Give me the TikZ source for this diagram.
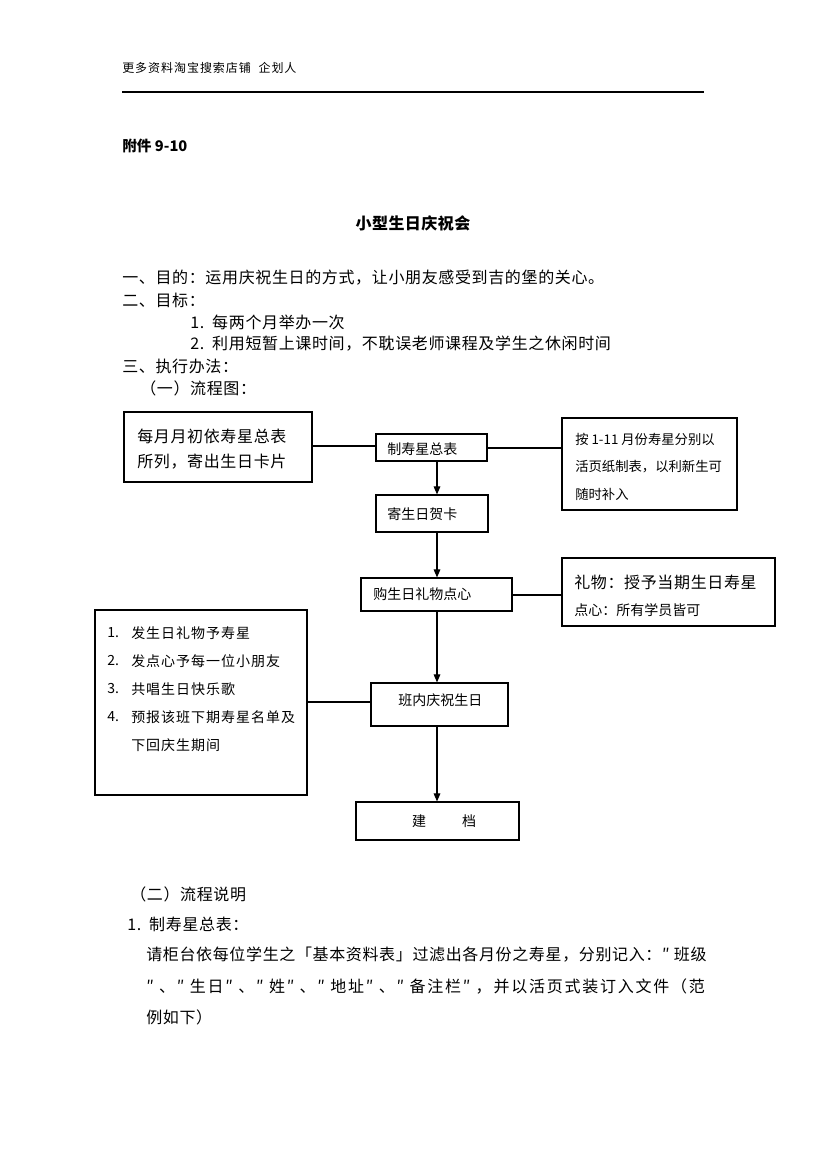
\documentclass[tikz,border=0pt]{standalone}
\usepackage{fontspec}
\setmainfont{Noto Sans CJK SC}
\usetikzlibrary{arrows.meta}
\tikzset{
  box/.style={draw, line width=0.9pt, inner sep=0pt},
  txt/.style={anchor=west, inner sep=0pt},
  conn/.style={line width=0.8pt},
  arr/.style={line width=0.8pt, -{Triangle[length=6pt,width=5pt]}},
  fbody/.style={font=\fontsize{12pt}{14pt}\selectfont\addfontfeature{LetterSpace=4}},
  fsmall/.style={font=\fontsize{10.5pt}{12pt}\selectfont},
  flist/.style={font=\fontsize{10.5pt}{12pt}\selectfont\addfontfeature{LetterSpace=7}},
}
\begin{document}
\begin{tikzpicture}[x=0.75pt,y=-0.75pt]
\useasboundingbox (0,0) rectangle (827,1169);
% header
\node[txt, font=\fontsize{9pt}{11pt}\selectfont\addfontfeature{LetterSpace=8}] (hdr) at (122,68) {更多资料淘宝搜索店铺\hspace{3pt} 企划人};
\coordinate (hl) at (122,92);
\coordinate (hr) at (704,92);
\draw[line width=0.8pt] (hl) -- (hr);
\node[txt, font=\fontsize{11pt}{13pt}\selectfont\bfseries] (att) at (122,146) {附件 9-10};
\node[font=\fontsize{12pt}{14pt}\selectfont\bfseries\addfontfeature{LetterSpace=3}, inner sep=0pt] (title) at (413,223) {小型生日庆祝会};
% body
\node[txt, fbody] (l1) at (122,278) {一、目的：运用庆祝生日的方式，让小朋友感受到吉的堡的关心。};
\node[txt, fbody] (l2) at (122,300) {二、目标：};
\node[txt, fbody] (l3) at (190,322) {1.\hspace{6pt}每两个月举办一次};
\node[txt, fbody] (l4) at (190,344) {2.\hspace{6pt}利用短暂上课时间，不耽误老师课程及学生之休闲时间};
\node[txt, fbody] (l5) at (122,366) {三、执行办法：};
\node[txt, fbody] (l6) at (140,388) {（一）流程图：};
% flowchart boxes
\node[box, minimum width=141pt, minimum height=52.5pt] (A) at (218,447) {};
\node[box, minimum width=83.25pt, minimum height=20.25pt] (B) at (431.5,447.5) {};
\node[box, minimum width=131.25pt, minimum height=69pt] (C) at (649.5,464) {};
\node[box, minimum width=84pt, minimum height=27.75pt] (D) at (432,513.5) {};
\node[box, minimum width=113.25pt, minimum height=24.75pt] (E) at (436.5,594.5) {};
\node[box, minimum width=159.75pt, minimum height=51pt] (F) at (668.5,592) {};
\node[box, minimum width=102.75pt, minimum height=32.25pt] (G) at (439.5,704.5) {};
\node[box, minimum width=159pt, minimum height=138.75pt] (H) at (201,702.5) {};
\node[box, minimum width=122.25pt, minimum height=28.5pt] (I) at (437.5,821) {};
% box texts
\node[txt, fbody] (A1) at (137,436) {每月月初依寿星总表};
\node[txt, fbody] (A2) at (137,462) {所列，寄出生日卡片};
\node[txt, fsmall] (Bt) at (387,449) {制寿星总表};
\node[txt, font=\fontsize{10pt}{12pt}\selectfont] (C1) at (575,439) {按 1-11 月份寿星分别以};
\node[txt, font=\fontsize{10pt}{12pt}\selectfont] (C2) at (575,467) {活页纸制表，以利新生可};
\node[txt, font=\fontsize{10pt}{12pt}\selectfont] (C3) at (575,494) {随时补入};
\node[txt, fsmall] (Dt) at (387,514) {寄生日贺卡};
\node[txt, fsmall] (Et) at (373,594) {购生日礼物点心};
\node[txt, fbody] (F1) at (574,582) {礼物：授予当期生日寿星};
\node[txt, fsmall] (F2) at (574,610) {点心：所有学员皆可};
\node[txt, fsmall] (Gt) at (398,700) {班内庆祝生日};
\node[fsmall, inner sep=0pt] (It) at (444,821) {建\hspace{27pt}档};
\foreach \n/\y/\t in {1/633/发生日礼物予寿星, 2/661/发点心予每一位小朋友, 3/689/共唱生日快乐歌, 4/717/预报该班下期寿星名单及}{
  \node[txt, fsmall] (Hn\n) at (107,\y) {\n.};
  \node[txt, flist] (Ht\n) at (131,\y) {\t};
}
\node[txt, flist] (Ht5) at (131,745) {下回庆生期间};
% connectors
\coordinate (ax) at (437,0);
\draw[conn] (A.east |- 0,446) -- (B.west |- 0,446);
\draw[conn] (B.east |- 0,448) -- (C.west |- 0,448);
\draw[conn] (E.east |- 0,595) -- (F.west |- 0,595);
\draw[conn] (H.east |- 0,702) -- (G.west |- 0,702);
\draw[arr] (B.south -| ax) -- (D.north -| ax);
\draw[arr] (D.south -| ax) -- (E.north -| ax);
\draw[arr] (E.south -| ax) -- (G.north -| ax);
\draw[arr] (G.south -| ax) -- (I.north -| ax);
% bottom text
\node[txt, fbody] (m1) at (130,894) {（二）流程说明};
\node[txt, fbody] (m2) at (127,924) {1.\hspace{6pt}制寿星总表：};
\node[txt, fbody] (m3) at (146,955) {请柜台依每位学生之「基本资料表」过滤出各月份之寿星，分别记入：″ 班级};
\node[txt, font=\fontsize{12pt}{14pt}\selectfont\addfontfeature{LetterSpace=11}] (m4) at (146,986) {″ 、″ 生日″ 、″ 姓″ 、″ 地址″ 、″ 备注栏″ ，并以活页式装订入文件（范};
\node[txt, fbody] (m5) at (146,1017) {例如下）};
\end{tikzpicture}
\end{document}
